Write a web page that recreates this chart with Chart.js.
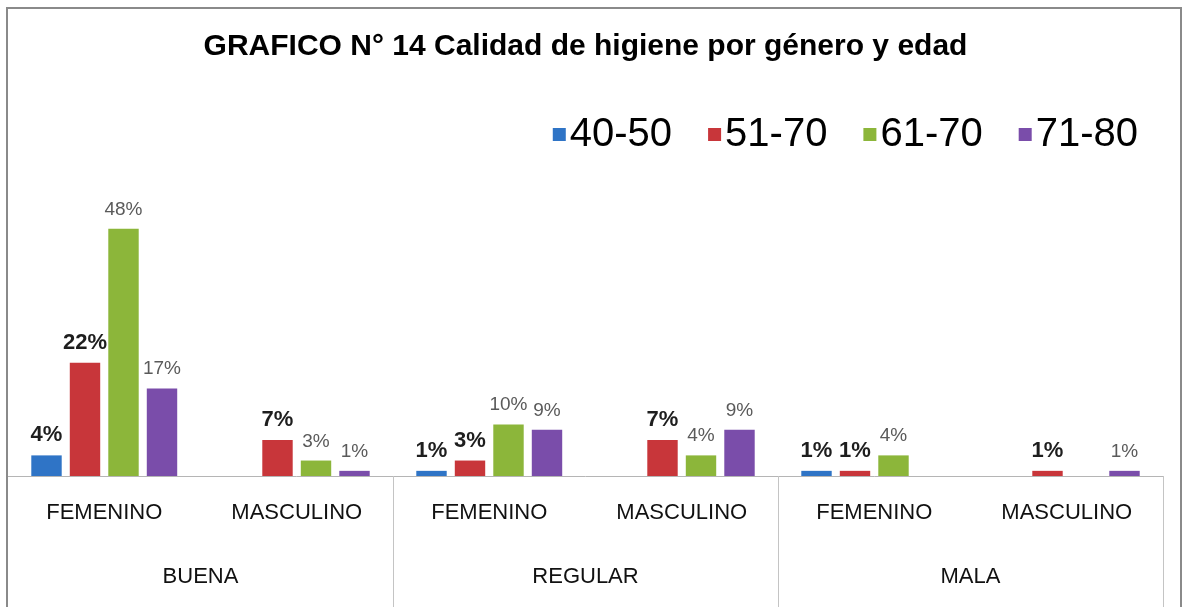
<!DOCTYPE html>
<html>
<head>
<meta charset="utf-8">
<script src="https://cdn.jsdelivr.net/npm/chart.js@4/dist/chart.umd.min.js"></script>
<style>
html,body{margin:0;padding:0;background:#fff;}
#wrap{width:1185px;height:607px;position:relative;}
</style>
</head>
<body>
<div id="wrap"><canvas id="c" width="1185" height="607"></canvas></div>
<script>
const titleText = 'GRAFICO N° 14 Calidad de higiene por género y edad';
const subCategories = ['FEMENINO', 'MASCULINO', 'FEMENINO', 'MASCULINO', 'FEMENINO', 'MASCULINO'];
const groups = ['BUENA', 'REGULAR', 'MALA'];
const seriesNames = ['40-50', '51-70', '61-70', '71-80'];
const s4050 = [4, null, 1, null, 1, null];
const s5170 = [22, 7, 3, 7, 1, 1];
const s6170 = [48, 3, 10, 4, 4, null];
const s7180 = [17, 1, 9, 9, null, 1];
const colors = ['#2F74C6', '#C8363A', '#8CB63A', '#7A4DAA'];
const labelBold = [true, true, false, false];

const FONT = '"Liberation Sans", Arial, sans-serif';

const framePlugin = {
  id: 'frame',
  beforeDraw(chart) {
    const ctx = chart.ctx;
    ctx.save();
    ctx.fillStyle = '#fff';
    ctx.fillRect(0, 0, chart.width, chart.height);
    ctx.strokeStyle = '#8a8a8a';
    ctx.lineWidth = 2;
    ctx.beginPath();
    ctx.moveTo(7, 640);
    ctx.lineTo(7, 8);
    ctx.lineTo(1181, 8);
    ctx.lineTo(1181, 640);
    ctx.stroke();
    ctx.restore();
  },
  afterDraw(chart) {
    const ctx = chart.ctx;
    const x = chart.scales.x;
    const a = chart.chartArea;
    const bottom = a.bottom;
    const step = (x.right - x.left) / subCategories.length;
    ctx.save();
    ctx.strokeStyle = '#b5b5b5';
    ctx.lineWidth = 1;
    ctx.beginPath();
    ctx.moveTo(x.left, bottom + 0.5);
    ctx.lineTo(x.right, bottom + 0.5);
    ctx.stroke();
    ctx.strokeStyle = '#c4c4c4';
    for (let g = 1; g <= groups.length; g++) {
      const px = Math.round(x.left + g * 2 * step) + 0.5;
      ctx.beginPath();
      ctx.moveTo(px, bottom);
      ctx.lineTo(px, chart.height);
      ctx.stroke();
    }
    ctx.fillStyle = '#111';
    ctx.font = '22px ' + FONT;
    ctx.textAlign = 'center';
    ctx.textBaseline = 'middle';
    groups.forEach((g, i) => {
      const cx = (x.getPixelForValue(i * 2) + x.getPixelForValue(i * 2 + 1)) / 2;
      ctx.fillText(g, cx, 577);
    });
    ctx.font = '40px ' + FONT;
    ctx.textBaseline = 'middle';
    ctx.textAlign = 'left';
    const box = 13, gapBox = 4, gapItem = 36;
    const widths = seriesNames.map(n => ctx.measureText(n).width);
    const total = widths.reduce((s, w) => s + w + box + gapBox, 0) + gapItem * (seriesNames.length - 1);
    let lx = 1138 - total;
    const ly = 134;
    seriesNames.forEach((n, i) => {
      ctx.fillStyle = colors[i];
      ctx.fillRect(lx, ly - 6, box, box);
      ctx.fillStyle = '#000';
      ctx.fillText(n, lx + box + gapBox, ly + 1);
      lx += box + gapBox + widths[i] + gapItem;
    });
    ctx.restore();
  },
  afterDatasetsDraw(chart) {
    const ctx = chart.ctx;
    ctx.save();
    ctx.textAlign = 'center';
    ctx.textBaseline = 'alphabetic';
    chart.data.datasets.forEach((ds, di) => {
      const meta = chart.getDatasetMeta(di);
      ctx.font = labelBold[di] ? 'bold 22px ' + FONT : '19px ' + FONT;
      ctx.fillStyle = labelBold[di] ? '#1e1e1e' : '#5a5a5a';
      meta.data.forEach((el, i) => {
        const v = ds.data[i];
        if (v === null || v === undefined) return;
        ctx.fillText(v + '%', el.x, el.y - 14);
      });
    });
    ctx.restore();
  }
};

const datasets = [s4050, s5170, s6170, s7180].map((d, i) => ({
  label: seriesNames[i],
  data: d,
  backgroundColor: colors[i],
  borderWidth: 0,
  categoryPercentage: 0.8,
  barPercentage: 0.79
}));

new Chart(document.getElementById('c'), {
  type: 'bar',
  data: { labels: subCategories, datasets },
  options: {
    responsive: false,
    animation: false,
    layout: { padding: { left: 8, right: 22, top: 0, bottom: 0 } },
    plugins: {
      legend: { display: false },
      tooltip: { enabled: false },
      title: {
        display: true,
        text: titleText,
        color: '#000',
        font: { family: FONT, size: 30, weight: 'bold' },
        padding: { top: 29, bottom: 107 }
      }
    },
    scales: {
      x: {
        grid: { display: false, drawTicks: false },
        border: { display: false },
        ticks: { color: '#111', font: { family: FONT, size: 22 }, padding: 24, maxRotation: 0, autoSkip: false },
        afterFit(scale) { scale.height = 131; }
      },
      y: {
        display: false,
        min: 0,
        max: 59
      }
    }
  },
  plugins: [framePlugin]
});
</script>
</body>
</html>
